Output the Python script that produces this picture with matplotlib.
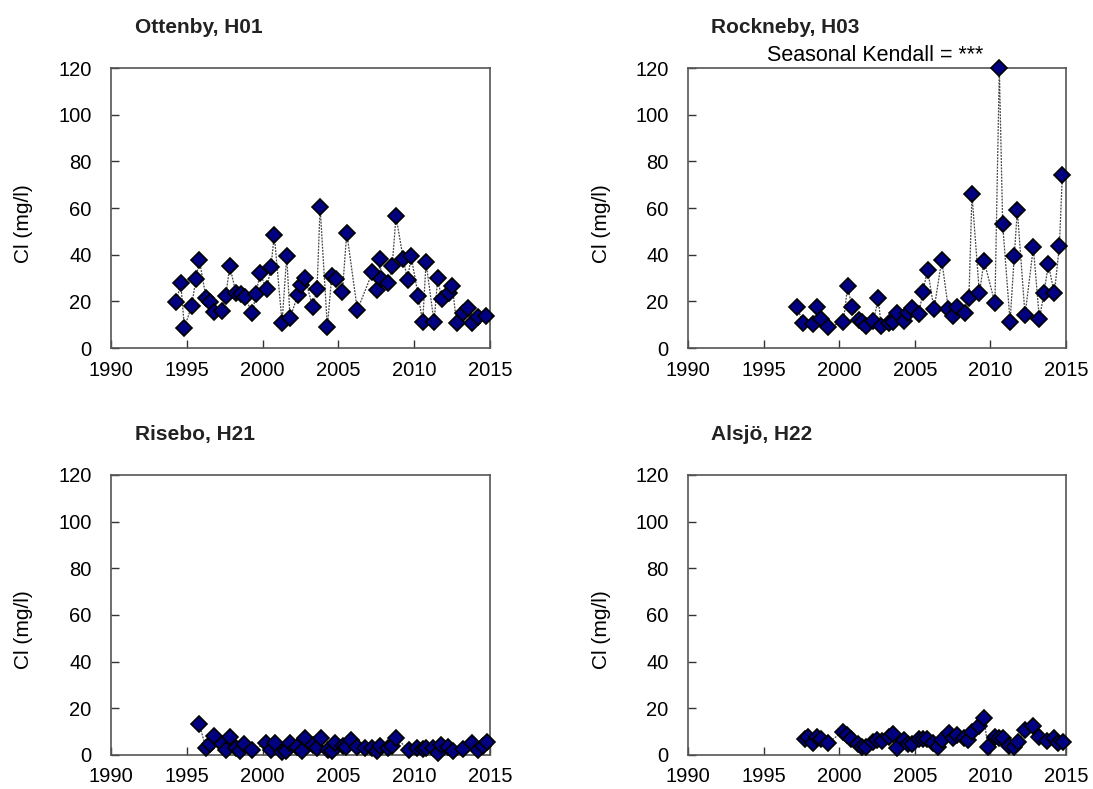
import matplotlib
matplotlib.use("Agg")
import matplotlib.pyplot as plt

plt.rcParams['font.family'] = ['Liberation Sans', 'DejaVu Sans']

# Ottenby, H01
h01_year = [1994.29, 1994.6, 1994.84, 1995.32, 1995.6, 1995.83, 1996.27, 1996.53, 1996.82,
            1997.3, 1997.57, 1997.83, 1998.25, 1998.58, 1998.84, 1999.32, 1999.56, 1999.83,
            2000.27, 2000.55, 2000.77, 2001.28, 2001.59, 2001.81, 2002.31, 2002.53, 2002.8,
            2003.3, 2003.59, 2003.79, 2004.27, 2004.56, 2004.82, 2005.26, 2005.55, 2006.25,
            2007.24, 2007.57, 2007.76, 2007.82, 2008.29, 2008.55, 2008.8, 2009.28, 2009.57,
            2009.79, 2010.27, 2010.56, 2010.78, 2011.31, 2011.55, 2011.81, 2012.3, 2012.51,
            2012.8, 2013.24, 2013.53, 2013.83, 2014.19, 2014.72]
h01_cl = [19.6, 27.7, 8.7, 18.1, 29.7, 37.7, 21.3, 19.9, 15.6,
          15.9, 22.4, 35.1, 23.4, 23.0, 21.7, 14.9, 23.0, 32.0,
          25.1, 34.9, 48.4, 10.9, 39.4, 12.7, 22.7, 27.0, 29.9,
          17.6, 25.1, 60.6, 9.1, 30.9, 29.6, 23.9, 49.4, 16.3,
          32.4, 24.9, 38.1, 29.6, 27.7, 35.3, 56.6, 38.0, 29.1,
          39.6, 22.3, 11.1, 36.7, 11.0, 29.9, 21.0, 23.4, 26.7,
          10.6, 14.9, 17.3, 10.9, 13.4, 13.9]

# Rockneby, H03
h03_year = [1997.23, 1997.58, 1998.25, 1998.55, 1998.77, 1999.28, 2000.27, 2000.56, 2000.83,
            2001.31, 2001.53, 2001.77, 2002.26, 2002.59, 2002.76, 2003.29, 2003.56, 2003.8,
            2004.31, 2004.53, 2004.84, 2005.28, 2005.52, 2005.85, 2006.27, 2006.78, 2007.22,
            2007.5, 2007.77, 2008.32, 2008.58, 2008.78, 2009.27, 2009.58, 2010.3, 2010.59,
            2010.81, 2011.3, 2011.58, 2011.78, 2012.29, 2012.84, 2013.24, 2013.54, 2013.83,
            2014.23, 2014.56, 2014.76]
h03_cl = [17.4, 10.9, 10.1, 17.6, 12.3, 9.1, 11.1, 26.7, 17.7,
          12.0, 11.0, 9.6, 11.7, 21.3, 9.4, 10.6, 11.3, 15.2,
          11.7, 14.9, 17.0, 14.6, 24.1, 33.4, 16.6, 37.7, 16.7,
          13.9, 17.7, 14.9, 21.6, 65.9, 23.4, 37.3, 19.2, 120.0,
          53.1, 11.3, 39.6, 59.1, 14.1, 43.1, 12.4, 23.4, 35.9,
          23.4, 43.7, 74.1]

# Risebo, H21
h21_year = [1995.82, 1996.27, 1996.53, 1996.82, 1997.3, 1997.56, 1997.85, 1998.22, 1998.51,
            1998.77, 1999.28, 2000.22, 2000.53, 2000.82, 2001.3, 2001.54, 2001.81, 2002.29,
            2002.62, 2002.8, 2003.3, 2003.57, 2003.83, 2004.33, 2004.55, 2004.77, 2005.32,
            2005.5, 2005.83, 2006.25, 2006.76, 2007.24, 2007.52, 2007.74, 2008.25, 2008.56,
            2008.8, 2009.66, 2010.2, 2010.56, 2010.78, 2011.26, 2011.55, 2011.75, 2012.25,
            2012.54, 2013.24, 2013.83, 2014.19, 2014.52, 2014.78]
h21_cl = [13.1, 2.9, 4.6, 8.3, 4.7, 2.1, 7.8, 2.9, 1.9,
          4.6, 2.1, 5.0, 2.1, 5.0, 1.4, 1.9, 5.0, 3.6,
          1.7, 7.3, 4.3, 2.9, 7.3, 2.1, 1.7, 5.0, 3.9,
          3.6, 6.4, 3.6, 3.1, 2.9, 1.7, 3.9, 2.9, 4.0,
          7.3, 2.1, 2.9, 2.4, 3.1, 2.9, 1.0, 4.3, 3.6,
          1.7, 2.6, 5.3, 2.1, 3.9, 5.4]

# Alsjö, H22
h22_year = [1997.74, 1997.92, 1998.25, 1998.55, 1998.8, 1999.28, 2000.23, 2000.5, 2000.76,
            2001.23, 2001.49, 2001.77, 2002.26, 2002.52, 2002.81, 2003.31, 2003.58, 2003.8,
            2004.29, 2004.57, 2004.84, 2005.3, 2005.57, 2005.79, 2006.23, 2006.51, 2006.82,
            2007.28, 2007.55, 2007.77, 2008.27, 2008.54, 2008.8, 2009.27, 2009.58, 2009.82,
            2010.3, 2010.57, 2010.81, 2011.25, 2011.56, 2011.8, 2012.29, 2012.84, 2013.24,
            2013.77, 2014.23, 2014.46, 2014.79]
h22_cl = [6.7, 7.8, 5.0, 7.8, 6.7, 5.3, 10.0, 8.6, 6.9,
          4.7, 3.6, 3.3, 5.6, 6.4, 6.0, 7.8, 8.9, 2.9,
          6.4, 4.7, 4.6, 6.7, 6.7, 6.7, 5.3, 3.6, 6.4,
          9.3, 7.3, 8.6, 7.3, 6.4, 10.0, 12.4, 15.7, 3.6,
          7.8, 7.3, 7.3, 3.9, 3.6, 5.6, 10.7, 12.6, 7.5,
          6.0, 7.3, 5.0, 5.4]

titles = ["Ottenby, H01", "Rockneby, H03", "Risebo, H21", "Alsjö, H22"]
series = [(h01_year, h01_cl), (h03_year, h03_cl), (h21_year, h21_cl), (h22_year, h22_cl)]
x_ticks = [1990, 1995, 2000, 2005, 2010, 2015]
y_ticks = [0, 20, 40, 60, 80, 100, 120]

fig = plt.figure(figsize=(10.93, 7.89), dpi=100)

boxes = [[0.1016, 0.5589, 0.3467, 0.3549],
         [0.6295, 0.5589, 0.3458, 0.3549],
         [0.1016, 0.0431, 0.3467, 0.3549],
         [0.6295, 0.0431, 0.3458, 0.3549]]

for i in range(4):
    ax = fig.add_axes(boxes[i])
    yrs, vals = series[i]
    ax.plot(yrs, vals, color='#444444', linestyle=(0, (1.5, 1)), linewidth=0.9,
            marker='D', markersize=8, markerfacecolor='#000080',
            markeredgecolor='black', markeredgewidth=1.2, clip_on=False, zorder=3)
    ax.set_xlim(1990, 2015)
    ax.set_ylim(0, 120)
    ax.set_xticks(x_ticks)
    ax.set_yticks(y_ticks)
    ax.tick_params(direction='in', length=6, width=1, colors='#333333',
                   labelsize=14.5, labelcolor='black')
    ax.tick_params(axis='y', pad=14)
    ax.tick_params(axis='x', pad=9)
    for s in ax.spines.values():
        s.set_color('#555555')
        s.set_linewidth(1.2)
    ax.set_ylabel('Cl (mg/l)', fontsize=15)
    # the label in the original sits a bit below the middle of the axis
    ax.yaxis.set_label_coords(-0.205, 0.446)
    ax.text(0.062, 1.143, titles[i], transform=ax.transAxes, fontsize=15,
            fontweight='bold', ha='left', va='center', color='#222222')
    if i == 1:
        ax.text(0.495, 1.008, 'Seasonal Kendall = ***', transform=ax.transAxes,
                fontsize=15.5, ha='center', va='bottom')

fig.savefig('out.png', dpi=100)
